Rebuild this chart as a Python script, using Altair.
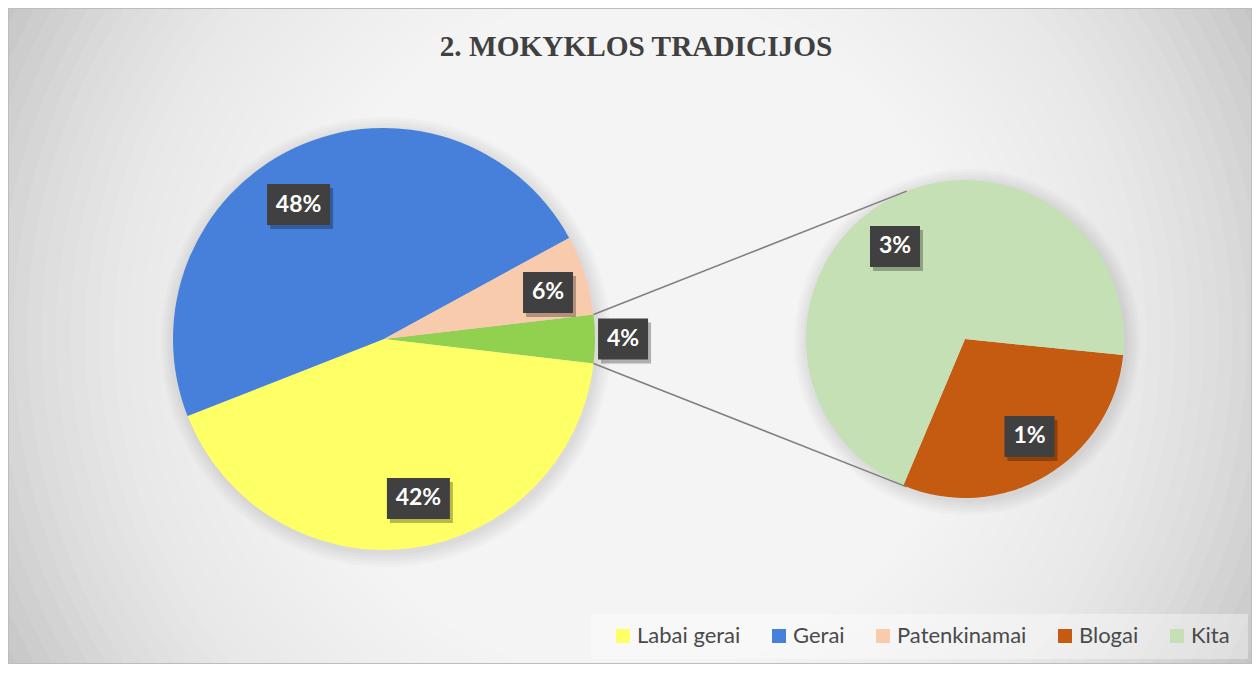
import math
import altair as alt
import pandas as pd

# ---------------- data ----------------
title_text = "2. MOKYKLOS TRADICIJOS"
categories = ["Labai gerai", "Gerai", "Patenkinamai", "Blogai", "Kita"]
values = [42.2, 48.0, 6.1, 1.1, 2.6]
colors = ["#FFFF66", "#4780DA", "#F8CBAD", "#C55A11", "#C5E0B4"]
secondary_categories = ["Blogai", "Kita"]
other_name = "Kiti"
other_color = "#92D050"

# ---------------- layout ----------------
W, H = 1244, 656
C1, R1 = (376.0, 331.0), 211.0      # main pie
C2, R2 = (957.0, 331.0), 159.0      # secondary pie
SEC_START_DEG = 95.8
# (angle nudge in degrees, radius factor) for data labels
label_place = {
    "Gerai": (-7.4, 0.755), "Labai gerai": (-4.8, 0.773), "Patenkinamai": (1.8, 0.808),
    other_name: (0.0, 1.133), "Kita": (-6.4, 0.73), "Blogai": (-2.8, 0.735),
}

val = dict(zip(categories, values))
other_val = sum(val[c] for c in secondary_categories)
main_order = [other_name, "Labai gerai", "Gerai", "Patenkinamai"]
main_vals = [other_val] + [val[c] for c in main_order[1:]]
sec_vals = [val[c] for c in secondary_categories]

main_df = pd.DataFrame({"kategorija": main_order, "reiksme": main_vals, "eil": range(len(main_order))})
sec_df = pd.DataFrame({"kategorija": secondary_categories, "reiksme": sec_vals,
                       "eil": range(len(secondary_categories))})

main_total = sum(main_vals)
sec_total = sum(sec_vals)
main_start = math.radians(90.0) - math.pi * other_val / main_total
sec_start = math.radians(SEC_START_DEG)


def pt(c, r, th):
    return c[0] + r * math.sin(th), c[1] - r * math.cos(th)


# label positions from slice geometry
lab_rows = []
for names, vals, c, r, start, tot in [
    (main_order, main_vals, C1, R1, main_start, main_total),
    (secondary_categories, sec_vals, C2, R2, sec_start, sec_total),
]:
    cum = 0.0
    for n, v in zip(names, vals):
        mid = start + 2 * math.pi * (cum + v / 2) / tot
        cum += v
        nudge, rf = label_place[n]
        px, py = pt(c, r * rf, mid + math.radians(nudge))
        txt = f"{round(v)}%"
        w, h = 13 * len(txt) + 24, 41
        lab_rows.append({"txt": txt, "px": px, "py": py,
                         "x0": px - w / 2, "x1": px + w / 2, "y0": py - h / 2, "y1": py + h / 2,
                         "sx0": px - w / 2 + 3, "sx1": px + w / 2 + 3,
                         "sy0": py - h / 2 + 4, "sy1": py + h / 2 + 4})
lab_df = pd.DataFrame(lab_rows)

# connector lines: from split-slice corners, tangent to the secondary pie
a0 = main_start
a1 = main_start + 2 * math.pi * other_val / main_total
line_rows = []
for a, sign in [(a0, 1), (a1, -1)]:
    p = pt(C1, R1, a)
    dx, dy = p[0] - C2[0], p[1] - C2[1]
    D = math.hypot(dx, dy)
    phi = math.atan2(dx, -dy)
    alpha = math.acos(R2 / D)
    q = pt(C2, R2, phi + sign * alpha)
    line_rows.append({"x": p[0], "y": p[1], "x2": q[0], "y2": q[1]})
line_df = pd.DataFrame(line_rows)

one = pd.DataFrame({"t": [title_text]})

# soft glow discs behind the pies (circle symbol: size = diameter^2)
glow_rows = []
for c, r in [(C1, R1), (C2, R2)]:
    for extra in (14, 11, 8, 5, 2):
        glow_rows.append({"cx": c[0] + 2, "cy": c[1] + 3, "s": (2 * (r + extra)) ** 2})
glow_df = pd.DataFrame(glow_rows)

# background: stacked translucent white discs approximate a radial white-to-grey fill
BG_R = math.hypot(W, H) / 2
prof = [(1.0, 0.0), (0.88, 5.4), (0.47, 25.4), (0.25, 40.0)]  # (relative radius, disc count)
bg_s = []
for k in range(40):
    target = k + 0.5
    for (t0, n0), (t1, n1) in zip(prof[:-1], prof[1:]):
        if n0 <= target <= n1:
            rr = BG_R * (t0 + (t1 - t0) * (target - n0) / (n1 - n0))
            bg_s.append((2 * rr) ** 2)
            break
bg_df = pd.DataFrame({"s": bg_s})

color_scale = alt.Scale(domain=categories + [other_name], range=colors + [other_color])
legend = alt.Legend(
    values=categories, orient="none", legendX=604, legendY=617, direction="horizontal",
    title=None, symbolType="square", symbolSize=196, symbolStrokeWidth=0, symbolOpacity=1,
    labelFont="Lato", labelFontSize=22, labelColor="#4a4a4a", labelOffset=3,
    columnPadding=27, padding=0, labelLimit=400,
)

X = lambda f: alt.X(f, scale=None, axis=None)
Y = lambda f: alt.Y(f, scale=None, axis=None)

bg_base = alt.Chart(one).mark_rect(fill="#c5c5c5").encode(
    x=alt.value(0), x2=alt.value(W), y=alt.value(0), y2=alt.value(H))
bg_glow = alt.Chart(bg_df).mark_point(
    shape="circle", filled=True, fill="#ffffff", fillOpacity=0.08, strokeWidth=0, opacity=1,
).encode(x=alt.value(W / 2), y=alt.value(H / 2), size=alt.Size("s:Q", scale=None))
frame = alt.Chart(one).mark_rect(fillOpacity=0, stroke="#bdbdbd", strokeWidth=1).encode(
    x=alt.value(0.5), x2=alt.value(W - 0.5), y=alt.value(0.5), y2=alt.value(H - 0.5))

title = alt.Chart(one).mark_text(
    font="Liberation Serif", fontSize=29.3, fontWeight="bold", color="#404040",
    align="center", baseline="alphabetic",
).encode(x=alt.value(628), y=alt.value(48), text="t:N")

shadows = alt.Chart(glow_df).mark_point(
    shape="circle", filled=True, fill="#000000", fillOpacity=0.018, strokeWidth=0, opacity=1,
).encode(x=X("cx:Q"), y=Y("cy:Q"), size=alt.Size("s:Q", scale=None))

main_pie = alt.Chart(main_df).mark_arc().encode(
    theta=alt.Theta("reiksme:Q", stack=True, scale=alt.Scale(range=[main_start, main_start + 2 * math.pi])),
    order=alt.Order("eil:Q"),
    color=alt.Color("kategorija:N", scale=color_scale, legend=legend),
    x=alt.value(C1[0]), y=alt.value(C1[1]), radius=alt.value(R1),
)

sec_pie = alt.Chart(sec_df).mark_arc().encode(
    theta=alt.Theta("reiksme:Q", stack=True, scale=alt.Scale(range=[sec_start, sec_start + 2 * math.pi])),
    order=alt.Order("eil:Q"),
    color=alt.Color("kategorija:N", scale=color_scale, legend=legend),
    x=alt.value(C2[0]), y=alt.value(C2[1]), radius=alt.value(R2),
)

connectors = alt.Chart(line_df).mark_rule(color="#7f7f7f", strokeWidth=1.5).encode(
    x=X("x:Q"), y=Y("y:Q"), x2="x2:Q", y2="y2:Q")

legend_box = alt.Chart(one).mark_rect(fill="#ffffff", fillOpacity=0.38).encode(
    x=alt.value(583), x2=alt.value(1240), y=alt.value(606), y2=alt.value(651))

lab_shadow = alt.Chart(lab_df).mark_rect(fill="#000000", opacity=0.28).encode(
    x=X("sx0:Q"), x2="sx1:Q", y=Y("sy0:Q"), y2="sy1:Q")
lab_box = alt.Chart(lab_df).mark_rect(fill="#404040").encode(
    x=X("x0:Q"), x2="x1:Q", y=Y("y0:Q"), y2="y1:Q")
lab_text = alt.Chart(lab_df).mark_text(
    font="Lato", fontSize=23, fontWeight="bold", color="#ffffff", align="center", baseline="middle",
).encode(x=X("px:Q"), y=Y("py:Q"), text="txt:N")

chart = alt.layer(
    bg_base, bg_glow, frame, title, shadows, main_pie, sec_pie, connectors, legend_box,
    lab_shadow, lab_box, lab_text
).resolve_scale(theta="independent").properties(
    width=W, height=H, padding=0, autosize=alt.AutoSizeParams(type="none"),
    background="#ffffff",
).configure_view(strokeWidth=0)

chart.save("out.html", embed_options={"renderer": "svg", "actions": False})
